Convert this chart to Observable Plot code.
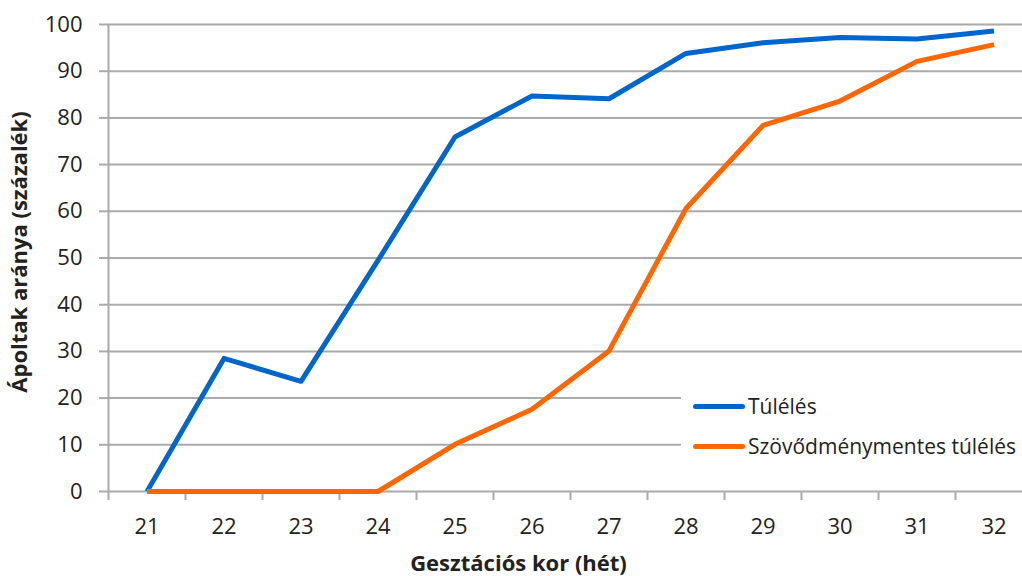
<!DOCTYPE html>
<html>
<head>
<meta charset="utf-8">
<script src="https://cdn.jsdelivr.net/npm/d3@7"></script>
<script src="https://cdn.jsdelivr.net/npm/@observablehq/plot@0.6"></script>
<style>
  html, body { margin: 0; padding: 0; background: #fff; }
  #wrap { position: relative; width: 1022px; height: 576px; overflow: hidden; font-family: "Open Sans", sans-serif; }
  #legend { position: absolute; left: 681px; top: 362px; width: 341px; height: 116px; background: #fff; }
  .item { position: absolute; left: 12px; display: flex; align-items: center; font-size: 21px; color: #222; white-space: nowrap; }
  .sw { width: 52px; height: 5px; border-radius: 3px; margin-right: 3px; }
</style>
</head>
<body>
<div id="wrap"></div>
<script>
const weeks = [21, 22, 23, 24, 25, 26, 27, 28, 29, 30, 31, 32];
const survival = [0, 28.5, 23.6, 49.5, 75.9, 84.7, 84.1, 93.8, 96.1, 97.2, 96.9, 98.6];
const complicationFree = [0, 0, 0, 0, 10.1, 17.6, 30.1, 60.6, 78.4, 83.6, 92.1, 95.7];
const seriesNames = ["Túlélés", "Szövődménymentes túlélés"];
const seriesColors = ["#0066CC", "#FF6600"];
const yTicks = [0, 10, 20, 30, 40, 50, 60, 70, 80, 90, 100];
const xTitle = "Gesztációs kor (hét)";
const yTitle = "Ápoltak aránya (százalék)";

const rows = [];
weeks.forEach((w, i) => {
  rows.push({week: w, value: survival[i], series: seriesNames[0]});
  rows.push({week: w, value: complicationFree[i], series: seriesNames[1]});
});
const boundaries = weeks.map(w => w - 0.5).concat([weeks[weeks.length - 1] + 0.5]);

const grid = "#aaaaaa";
const chart = Plot.plot({
  width: 1022,
  height: 576,
  marginLeft: 108,
  marginRight: 0,
  marginTop: 24,
  marginBottom: 85,
  style: {fontFamily: "'Open Sans', sans-serif", background: "#fff", color: "#222"},
  x: {domain: [weeks[0] - 0.5, weeks[weeks.length - 1] + 0.5], range: [108, 1032]},
  y: {domain: [0, 100]},
  color: {domain: seriesNames, range: seriesColors},
  marks: [
    Plot.gridY(yTicks, {stroke: grid, strokeOpacity: 1, strokeWidth: 2}),
    Plot.axisY(yTicks, {tickSize: 9, tickPadding: 17, stroke: grid, strokeWidth: 2, fontSize: 22, label: null}),
    Plot.axisX(boundaries, {tickSize: 9, stroke: grid, strokeWidth: 2, tickFormat: () => "", label: null}),
    Plot.axisX(weeks, {tickSize: 0, tickPadding: 27, fontSize: 22, label: null}),
    Plot.ruleX([weeks[0] - 0.5], {stroke: grid, strokeWidth: 2}),
    Plot.lineY(rows, {x: "week", y: "value", z: "series", stroke: "series", strokeWidth: 5, strokeLinejoin: "round", strokeLinecap: "butt"}),
    Plot.text([yTitle], {frameAnchor: "left", textAnchor: "middle", dx: -89, dy: -6, rotate: -90, fontSize: 22, fontWeight: "bold", fill: "#222"}),
    Plot.text([xTitle], {frameAnchor: "bottom", dx: -47, dy: 79, fontSize: 22, fontWeight: "bold", fill: "#222"})
  ]
});
const wrap = document.getElementById("wrap");
wrap.appendChild(chart);
const legend = document.createElement("div");
legend.id = "legend";
seriesNames.forEach((name, i) => {
  const item = document.createElement("div");
  item.className = "item";
  item.style.top = (i === 0 ? 44 : 84) + "px";
  item.style.transform = "translateY(-50%)";
  const sw = document.createElement("span");
  sw.className = "sw";
  sw.style.background = seriesColors[i];
  const t = document.createElement("span");
  t.textContent = name;
  item.appendChild(sw);
  item.appendChild(t);
  legend.appendChild(item);
});
wrap.appendChild(legend);
</script>
</body>
</html>
